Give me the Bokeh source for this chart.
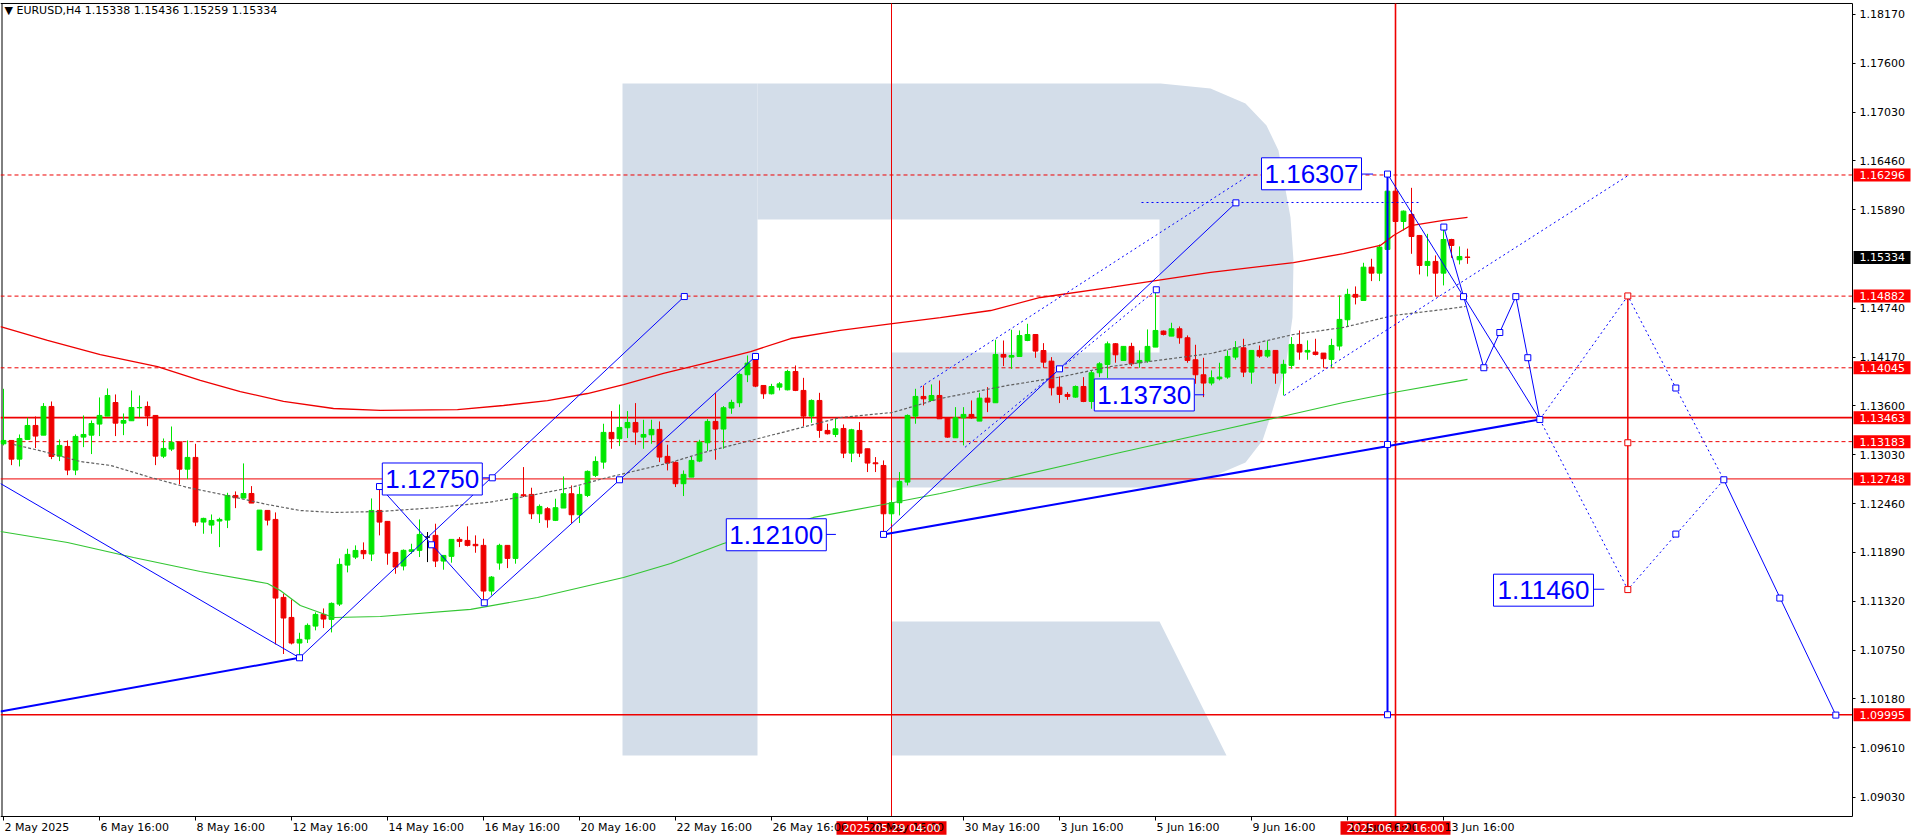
from bokeh.plotting import figure
from bokeh.models import LinearAxis, FixedTicker, PrintfTickFormatter, Label, ColumnDataSource
from bokeh.embed import file_html
from bokeh.resources import INLINE

# ---------------- data (EURUSD H4, bar index 0 = 2 May 16:00) ----------------
open_ = [1.13158,1.13197,1.12979,1.13209,1.13372,1.13259,1.13594,1.13014,1.13127,1.12851,
1.13236,1.13259,1.13388,1.13481,1.13640,1.13399,1.13427,1.13578,1.13594,1.13489,
1.13014,1.13096,1.13181,1.12862,1.12999,1.12244,1.12209,1.12256,1.12267,1.12555,
1.12524,1.12578,1.11917,1.12380,1.12275,1.11365,1.11131,1.10832,1.10879,1.11030,
1.11166,1.11108,1.11287,1.11742,1.11835,1.11913,1.11871,1.12380,1.12252,1.11890,
1.11731,1.11902,1.11914,1.12069,1.12089,1.11789,1.11844,1.12042,1.12030,1.11984,
1.11972,1.11439,1.11766,1.11972,1.11820,1.12563,1.12567,1.12341,1.12400,1.12264,
1.12408,1.12575,1.12330,1.12555,1.12789,1.12944,1.13291,1.13217,1.13345,1.13407,
1.13236,1.13263,1.13326,1.13011,1.12941,1.12692,1.12769,1.12956,1.13170,1.13419,
1.13330,1.13575,1.13637,1.13964,1.14162,1.13839,1.13742,1.13819,1.13788,1.14002,
1.13781,1.13481,1.13664,1.13314,1.13267,1.13337,1.13049,1.13314,1.13100,1.12936,
1.12905,1.12341,1.12470,1.12711,1.13481,1.13711,1.13664,1.13722,1.13462,1.13228,
1.13462,1.13501,1.13423,1.13691,1.13637,1.14201,1.14170,1.14177,1.14364,1.14434,
1.14247,1.14123,1.13819,1.13734,1.13703,1.13827,1.13652,1.13987,1.14084,1.14326,
1.14131,1.14295,1.14104,1.14124,1.14287,1.14474,1.14415,1.14501,1.14396,1.14139,
1.13964,1.13867,1.13917,1.13937,1.14170,1.14279,1.13995,1.14248,1.14182,1.14248,
1.13983,1.14073,1.14318,1.14229,1.14229,1.14217,1.14143,1.14299,1.14606,1.14902,
1.14831,1.15220,1.15150,1.15427,1.16107,1.15753,1.15835,1.15590,1.15240,1.15287,
1.15150,1.15543,1.15306,1.15338]
high_ = [1.13800,1.13197,1.13267,1.13462,1.13477,1.13633,1.13652,1.13209,1.13197,1.13267,
1.13489,1.13430,1.13699,1.13804,1.13734,1.13512,1.13780,1.13722,1.13652,1.13489,
1.13220,1.13360,1.13181,1.13197,1.13158,1.12295,1.12333,1.12295,1.12586,1.12602,
1.12929,1.12664,1.12384,1.12380,1.12357,1.11408,1.11341,1.10952,1.11061,1.11190,
1.11236,1.11306,1.11820,1.11933,1.11972,1.12007,1.12520,1.12653,1.12252,1.11890,
1.11925,1.11991,1.12275,1.12128,1.12225,1.11855,1.12042,1.12069,1.12194,1.12089,
1.12050,1.11614,1.11991,1.11972,1.12587,1.12886,1.12645,1.12450,1.12419,1.12517,
1.12777,1.12672,1.12660,1.12847,1.13011,1.13392,1.13540,1.13617,1.13540,1.13633,
1.13438,1.13438,1.13419,1.13147,1.12952,1.12847,1.13011,1.13205,1.13446,1.13750,
1.13598,1.13672,1.13987,1.14189,1.14189,1.13839,1.13858,1.13878,1.14022,1.14072,
1.13928,1.13676,1.13753,1.13392,1.13450,1.13384,1.13333,1.13411,1.13100,1.13003,
1.12964,1.12497,1.12828,1.13501,1.13800,1.13839,1.13851,1.13897,1.13462,1.13586,
1.13586,1.13664,1.13753,1.13819,1.14372,1.14364,1.14489,1.14481,1.14559,1.14434,
1.14333,1.14170,1.13944,1.13761,1.13839,1.13936,1.14014,1.14111,1.14352,1.14334,
1.14295,1.14337,1.14248,1.14493,1.14948,1.14481,1.14571,1.14528,1.14423,1.14314,
1.14162,1.14015,1.14104,1.14248,1.14357,1.14384,1.14248,1.14306,1.14357,1.14248,
1.14139,1.14404,1.14481,1.14365,1.14384,1.14217,1.14384,1.14890,1.14968,1.14995,
1.15271,1.15318,1.15485,1.16307,1.16107,1.15882,1.16146,1.15590,1.15609,1.15357,
1.15688,1.15551,1.15462,1.15436]
low_ = [1.13139,1.12909,1.12894,1.13209,1.13108,1.13259,1.12979,1.12956,1.12792,1.12792,
1.13119,1.13038,1.13248,1.13481,1.13248,1.13259,1.13427,1.13469,1.13364,1.12909,
1.12991,1.13073,1.12684,1.12746,1.12197,1.12108,1.12108,1.11952,1.12174,1.12407,
1.12524,1.12466,1.11917,1.12205,1.10816,1.10704,1.10816,1.10668,1.10832,1.10980,
1.11007,1.10956,1.11264,1.11657,1.11812,1.11812,1.11789,1.12089,1.11746,1.11641,
1.11680,1.11875,1.11836,1.11777,1.11719,1.11688,1.11770,1.11952,1.11960,1.11886,
1.11338,1.11388,1.11688,1.11707,1.11758,1.12536,1.12279,1.12233,1.12178,1.12256,
1.12408,1.12233,1.12233,1.12536,1.12769,1.12867,1.13100,1.13131,1.13225,1.13147,
1.13100,1.13158,1.12944,1.12847,1.12653,1.12548,1.12769,1.12944,1.13073,1.12972,
1.13100,1.13508,1.13586,1.13878,1.13819,1.13683,1.13734,1.13781,1.13781,1.13773,
1.13364,1.13403,1.13228,1.13267,1.13236,1.12991,1.12944,1.13003,1.12828,1.12828,
1.12100,1.12225,1.12322,1.12672,1.13392,1.13606,1.13664,1.13450,1.13228,1.13228,
1.13139,1.13450,1.13423,1.13528,1.13637,1.14065,1.14033,1.14177,1.14356,1.14162,
1.14045,1.13722,1.13633,1.13672,1.13695,1.13644,1.13567,1.13936,1.13925,1.14104,
1.14131,1.14065,1.14046,1.14104,1.14287,1.14423,1.14415,1.14326,1.14104,1.13859,
1.13703,1.13840,1.13898,1.13917,1.14139,1.13937,1.13859,1.14162,1.14162,1.13859,
1.13723,1.14034,1.14139,1.14139,1.14190,1.14046,1.14046,1.14248,1.14528,1.14785,
1.14831,1.15057,1.15057,1.15427,1.15648,1.15648,1.15376,1.15135,1.15112,1.14878,
1.15007,1.15329,1.15252,1.15259]
close_ = [1.13197,1.12979,1.13220,1.13372,1.13248,1.13594,1.13010,1.13139,1.12851,1.13244,
1.13267,1.13395,1.13489,1.13722,1.13399,1.13430,1.13582,1.13582,1.13481,1.13014,
1.13104,1.13174,1.12862,1.12999,1.12244,1.12287,1.12263,1.12275,1.12555,1.12528,
1.12578,1.12466,1.12384,1.12267,1.11357,1.11124,1.10832,1.10875,1.11038,1.11166,
1.11112,1.11295,1.11750,1.11867,1.11913,1.11874,1.12380,1.12244,1.11882,1.11719,
1.11914,1.11921,1.12100,1.12069,1.11789,1.11855,1.12042,1.12019,1.11972,1.11968,
1.11439,1.11602,1.11972,1.11820,1.12575,1.12552,1.12341,1.12427,1.12271,1.12412,
1.12575,1.12330,1.12567,1.12836,1.12952,1.13291,1.13217,1.13349,1.13407,1.13295,
1.13267,1.13326,1.13003,1.12933,1.12692,1.12801,1.12964,1.13178,1.13419,1.13330,
1.13579,1.13641,1.13968,1.14100,1.13831,1.13742,1.13827,1.13858,1.14002,1.13781,
1.13481,1.13664,1.13314,1.13275,1.13333,1.13049,1.13322,1.13049,1.12933,1.12925,
1.12341,1.12470,1.12719,1.13489,1.13711,1.13683,1.13722,1.13450,1.13236,1.13462,
1.13501,1.13462,1.13691,1.13644,1.14201,1.14170,1.14189,1.14422,1.14434,1.14240,
1.14111,1.13812,1.13734,1.13711,1.13827,1.13652,1.13987,1.14092,1.14325,1.14197,
1.14295,1.14092,1.14131,1.14295,1.14481,1.14435,1.14501,1.14396,1.14131,1.13964,
1.13867,1.13929,1.13937,1.14178,1.14279,1.13995,1.14248,1.14182,1.14248,1.13983,
1.14085,1.14318,1.14229,1.14248,1.14201,1.14151,1.14306,1.14610,1.14902,1.14870,
1.15220,1.15150,1.15454,1.16107,1.15753,1.15874,1.15578,1.15240,1.15287,1.15150,
1.15543,1.15473,1.15345,1.15334]

# moving averages (sampled points: bar index, price)
ma_red_x = [-0.375,5.5,12.1,19.25,24.6,29.6,35,41.25,47.1,56.75,62.5,68,73,77.5,82.5,87.5,93.4,98.4,
            104.6,111.1,117.1,123.4,129.6,138.4,150.9,161.25,167.5,172.1,173.75,175.9,180,183]
ma_red_y = [1.14527,1.14364,1.14200,1.14060,1.13897,1.13768,1.13652,1.13570,1.13547,1.13558,1.13605,
            1.13663,1.13745,1.13850,1.13979,1.14095,1.14235,1.14387,1.14481,1.14562,1.14632,1.14714,
            1.14866,1.14983,1.15158,1.15274,1.15379,1.15473,1.15590,1.15706,1.15765,1.15800]
ma_green_x = [-0.375,8,16.25,24.6,33,34.6,37.1,41.25,47.1,58.4,66.75,77.5,83.4,90,101.25,110,117.1,
              125.5,133.75,139.6,152.5,159.25,167.5,173.75,183]
ma_green_y = [1.12134,1.12006,1.11831,1.11667,1.11527,1.11445,1.11270,1.11130,1.11142,1.11224,1.11364,
              1.11597,1.11761,1.11994,1.12298,1.12449,1.12578,1.12753,1.12928,1.13056,1.13325,1.13465,
              1.13640,1.13757,1.13909]
ma_dot_x = [1.25,5,9.6,13.4,18.4,23,26.75,33,37.1,41.25,47.1,54.25,60.5,65.9,70.9,75,83.4,87.5,93.4,
            104.6,111.1,117.1,125.5,131.75,138.4,150.9,161.25,167.5,173.75,180,182.75]
ma_dot_y = [1.13150,1.13068,1.12951,1.12905,1.12765,1.12648,1.12578,1.12449,1.12379,1.12356,1.12368,
            1.12414,1.12473,1.12554,1.12648,1.12753,1.12940,1.13056,1.13196,1.13465,1.13523,1.13687,
            1.13839,1.13932,1.14060,1.14212,1.14434,1.14516,1.14656,1.14726,1.14761]

# horizontal levels
levels_dashed = [1.16296, 1.14882, 1.14045, 1.13183]
levels_solid = [1.13463, 1.12748, 1.09995]
levels_solid_w = [1.6, 1.0, 1.6]
current_price = 1.15334

# axis ticks
ytick_vals = [1.09030,1.09610,1.10180,1.10750,1.11320,1.11890,1.12460,1.13030,1.13600,1.14170,
              1.14740,1.15890,1.16460,1.17030,1.17600,1.18170]
xtick_idx = [0,12,24,36,48,60,72,84,96,108,120,132,144,156,168,180]
xtick_text = ["2 May 2025","6 May 16:00","8 May 16:00","12 May 16:00","14 May 16:00","16 May 16:00",
              "20 May 16:00","22 May 16:00","26 May 16:00","28 May 16:00","30 May 16:00","3 Jun 16:00",
              "5 Jun 16:00","9 Jun 16:00","11 Jun 16:00","13 Jun 16:00"]
vlines_idx = [111, 174]
vlines_text = ["2025.05.29 04:00", "2025.06.12 16:00"]
vlines_w = [1.0, 1.6]

# analysis drawing objects (bar index / price)
blue_thin_xs = [[-0.375,37.0],[37.0,85.1],[47.0,60.1],[60.1,94.0],[110.0,154.05],[173.0,192.04],
                [180.04,185.04,189.04,190.54,192.04],[215.04,229.04]]
blue_thin_ys = [[1.12694,1.10660],[1.10660,1.14877],[1.12659,1.11302],[1.11302,1.14177],[1.12100,1.15971],
                [1.16307,1.13442],[1.15688,1.14046,1.14876,1.14163,1.13442],[1.12738,1.09991]]
blue_thick_xs = [[-0.375,37.0],[110.0,192.04],[173.0,173.0]]
blue_thick_ys = [[1.10033,1.10660],[1.12100,1.13442],[1.16307,1.09995]]
blue_dash_xs = [[142.25,177.1],[114.6,156.1],[120.2,144.1],[160.1,203.2],[192.04,203.04,215.04],
                [192.04,203.04,215.04]]
blue_dash_ys = [[1.15975,1.15975],[1.13819,1.16317],[1.13118,1.14956],[1.13722,1.16297],
                [1.13442,1.14884,1.12738],[1.13442,1.11456,1.12738]]
red_target_x = [203.04, 203.04]
red_target_y = [1.14884, 1.11456]
blue_pts_x = [37.0,85.1,61.1,47.0,53.5,60.1,77.0,94.0,110.0,132.0,154.05,173.0,173.0,173.0,182.5,
              180.04,185.04,187.04,189.04,190.54,192.04,209.04,209.04,215.04,222.04,229.04,144.1]
blue_pts_y = [1.10660,1.14877,1.12761,1.12659,1.11979,1.11302,1.12738,1.14177,1.12100,1.14033,1.15971,
              1.16307,1.13150,1.09995,1.14876,1.15688,1.14046,1.14457,1.14876,1.14163,1.13442,1.13809,
              1.12104,1.12738,1.11357,1.09991,1.14956]
red_pts_x = [203.04, 203.04, 203.04]
red_pts_y = [1.14884, 1.13170, 1.11456]

tag_text = ["1.12750", "1.12100", "1.13730", "1.16307", "1.11460"]
tag_x = [53.6, 96.6, 142.6, 163.5, 192.5]
tag_y = [1.12747, 1.12096, 1.13728, 1.16310, 1.11449]
stub_x0 = [59.85, 102.8, 148.9, 169.8, 198.8]
stub_x1 = [61.1, 104.05, 150.1, 171.2, 200.1]
stub_y = [1.12761, 1.12100, 1.13730, 1.16307, 1.11460]

# watermark logo outline (bar index / price)
logo_xs = [
    [77.375, 94.25, 94.25, 77.375],
    [94.25, 144.625, 150.875, 155.25, 157.875, 159.375, 160.875, 161.25, 161.125, 160.25, 158.625,
     157.375, 155.25, 150.875, 144.625, 111.0, 111.0, 144.5, 144.5, 94.25],
    [111.0, 144.5, 152.875, 111.0],
]
logo_ys = [
    [1.17364, 1.17364, 1.09519, 1.09519],
    [1.17364, 1.17364, 1.17306, 1.17131, 1.16874, 1.16582, 1.15800, 1.15298, 1.14632, 1.14049, 1.13547,
     1.13196, 1.12940, 1.12765, 1.12648, 1.12648, 1.14224, 1.14224, 1.15776, 1.15776],
    [1.11083, 1.11083, 1.09519, 1.09519],
]

# ---------------- figure ----------------
W, H = 1916, 840
DX = 0.125                   # bars per pixel
DY = 0.00011674              # price per pixel
XR = (-0.375, -0.375 + W * DX)
YR = (1.18333 - H * DY, 1.18333)
X0, X1 = -0.375, 231.125     # chart area in bar index
Y0, Y1 = 1.08807, 1.18298    # chart area in price

FONT = "DejaVu Sans"
GREEN = "#00E600"
RED = "#EE0000"
BLUE = "#0000FF"
LOGO = "#D3DDE9"

p = figure(width=W, height=H, x_range=XR, y_range=YR,
           output_backend="svg", toolbar_location=None,
           x_axis_location=None, y_axis_location=None,
           min_border_left=0, min_border_right=0, min_border_top=0, min_border_bottom=0,
           background_fill_color="white", border_fill_color="white", outline_line_color=None)
p.grid.visible = False

yax = LinearAxis(ticker=FixedTicker(ticks=ytick_vals), formatter=PrintfTickFormatter(format="%.5f"),
                 fixed_location=X1, bounds=(Y0, Y1),
                 major_label_text_font=FONT, major_label_text_font_size="11px",
                 major_label_text_color="black", major_tick_out=3, major_tick_in=0,
                 minor_tick_line_color=None, axis_line_color="black", major_label_standoff=4)
p.add_layout(yax, "right")
xax = LinearAxis(ticker=FixedTicker(ticks=xtick_idx), fixed_location=Y0, bounds=(X0, X1),
                 major_label_overrides={t: "" for t in xtick_idx},
                 major_tick_out=4, major_tick_in=0, minor_tick_line_color=None,
                 axis_line_color="black")
p.add_layout(xax, "below")

# chart border (left and top)
p.segment(x0=[X0 + 1.5 * DX, X0], y0=[Y0, Y1], x1=[X0 + 1.5 * DX, X1], y1=[Y1, Y1],
          line_color="black", line_width=1)

# logo watermark
p.patches(logo_xs, logo_ys, fill_color=LOGO, line_color=None)

# levels
p.segment(x0=[X0] * len(levels_dashed), x1=[X1] * len(levels_dashed), y0=levels_dashed, y1=levels_dashed,
          line_color=RED, line_dash="4 3", line_width=1)
p.segment(x0=[X0] * len(levels_solid), x1=[X1] * len(levels_solid), y0=levels_solid, y1=levels_solid,
          line_color=RED, line_width=levels_solid_w)
p.segment(x0=vlines_idx, x1=vlines_idx, y0=[Y0] * 2, y1=[Y1] * 2, line_color=RED, line_width=vlines_w)

# candles
n = len(open_)
cols = []
for o, c in zip(open_, close_):
    cols.append(GREEN if c > o else (RED if c < o else "black"))
src = ColumnDataSource(dict(x=list(range(n)), h=high_, l=low_,
                            top=[max(o, c) for o, c in zip(open_, close_)],
                            bot=[min(o, c) for o, c in zip(open_, close_)], col=cols))
p.segment(x0="x", y0="h", x1="x", y1="l", line_color="col", line_width=1, source=src)
p.vbar(x="x", width=0.6, top="top", bottom="bot", fill_color="col", line_color="col",
       line_width=1, source=src)

# moving averages
p.line(ma_red_x, ma_red_y, line_color=RED, line_width=1.3)
p.line(ma_green_x, ma_green_y, line_color="#33C633", line_width=1.2)
p.line(ma_dot_x, ma_dot_y, line_color="#606060", line_width=1.2, line_dash="3 2")

# analysis objects
p.multi_line(blue_thin_xs, blue_thin_ys, line_color=BLUE, line_width=1)
p.multi_line(blue_thick_xs, blue_thick_ys, line_color=BLUE, line_width=2)
p.multi_line(blue_dash_xs, blue_dash_ys, line_color=BLUE, line_width=1, line_dash="2 3")
p.line(red_target_x, red_target_y, line_color=RED, line_width=1.5)
p.segment(x0=stub_x0, y0=stub_y, x1=stub_x1, y1=stub_y, line_color=BLUE, line_width=1)
p.scatter(blue_pts_x, blue_pts_y, marker="square", size=6, line_color=BLUE, fill_color="white", line_width=1)
p.scatter(red_pts_x, red_pts_y, marker="square", size=6, line_color=RED, fill_color="white", line_width=1)

# price call-out boxes
p.quad(left=[x - 50 * DX for x in tag_x], right=[x + 50 * DX for x in tag_x],
       bottom=[y - 16 * DY for y in tag_y], top=[y + 16 * DY for y in tag_y],
       fill_color="white", line_color=BLUE, line_width=1)
for t, x, y in zip(tag_text, tag_x, tag_y):
    p.add_layout(Label(x=x, y=y, text=t, text_align="center", text_baseline="middle",
                       text_font="Liberation Sans", text_font_size="26px", text_color=BLUE))

# header
p.add_layout(Label(x=X0 + 4 * DX, y=Y1 - 7 * DY, text="\u25BC EURUSD,H4  1.15338 1.15436 1.15259 1.15334",
                   text_align="left", text_baseline="middle", text_font=FONT, text_font_size="11px",
                   text_color="black"))

# date labels under the chart
for t, x in zip(xtick_idx, xtick_text):
    p.add_layout(Label(x=t + 1 * DX, y=Y0 - 11 * DY, text=x, text_align="left", text_baseline="middle",
                       text_font=FONT, text_font_size="11px", text_color="black"))
p.quad(left=[v - 55 * DX for v in vlines_idx], right=[v + 55 * DX for v in vlines_idx],
       bottom=[Y0 - 18.3 * DY] * 2, top=[Y0 - 4.7 * DY] * 2, fill_color=RED, line_color=None)
for vx, t in zip(vlines_idx, vlines_text):
    p.add_layout(Label(x=vx, y=Y0 - 11.5 * DY, text=t, text_align="center", text_baseline="middle",
                       text_font=FONT, text_font_size="11px", text_color="white"))

# price tags on the right scale
tag_levels = levels_dashed + levels_solid + [current_price]
tag_colors = ["#FF0000"] * (len(levels_dashed) + len(levels_solid)) + ["black"]
p.quad(left=[X1 + 1 * DX] * len(tag_levels), right=[X1 + 58 * DX] * len(tag_levels),
       bottom=[v - 6.5 * DY for v in tag_levels], top=[v + 6.5 * DY for v in tag_levels],
       fill_color=tag_colors, line_color=None)
for lv in tag_levels:
    p.add_layout(Label(x=X1 + 7 * DX, y=lv, text="%.5f" % lv, text_align="left", text_baseline="middle",
                       text_font=FONT, text_font_size="11px", text_color="white"))

open("out.html", "w").write(file_html(p, INLINE))
